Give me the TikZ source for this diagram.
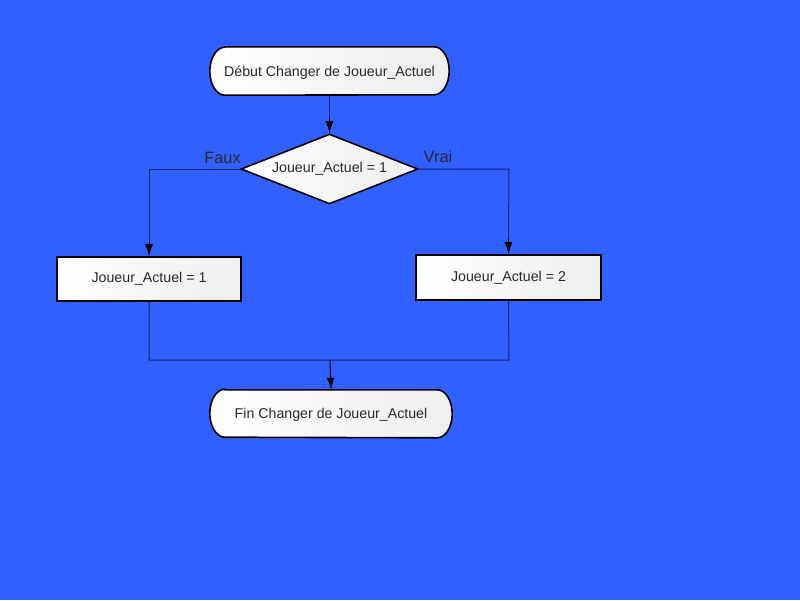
\documentclass[tikz,border=0pt]{standalone}
\usepackage{fontspec}
\setmainfont{Liberation Sans}
\usetikzlibrary{arrows.meta,shapes.geometric}
\definecolor{bgblue}{RGB}{48,96,255}
\definecolor{conn}{RGB}{20,35,100}
\definecolor{txt}{RGB}{40,40,40}
\definecolor{shadeend}{RGB}{238,238,238}
\tikzset{
  boxtext/.style={font=\fontsize{14.2}{16}\selectfont, text=txt},
  procbox/.style={rectangle, draw=black, line width=1.6pt, left color=white, right color=shadeend, boxtext, inner sep=0pt},
  decbox/.style={diamond, draw=black, line width=1.6pt, left color=white, right color=shadeend, boxtext, inner sep=0pt, aspect=2.53},
  termnode/.style={rectangle, draw=none, boxtext, inner sep=0pt},
  termline/.style={draw=black, line width=1.6pt, left color=white, right color=shadeend},
  connline/.style={draw=conn, line width=1pt},
  arrowline/.style={draw=black, line width=1pt, -{Latex[length=12pt,width=8pt]}},
  brlabel/.style={font=\fontsize{16.4}{18}\selectfont, text=txt}
}
\newcommand{\termshape}[1]{%
  \path[termline] ([xshift=15pt]#1.north west) -- ([xshift=-15pt]#1.north east)
    arc[start angle=90,end angle=-90,x radius=15pt,y radius=24pt]
    -- ([xshift=15pt]#1.south west)
    arc[start angle=270,end angle=90,x radius=15pt,y radius=24pt] -- cycle;}
\begin{document}
\begin{tikzpicture}[x=1pt,y=-1pt]
\fill[bgblue] (0,0) rectangle (800,600);
\useasboundingbox (0,0) rectangle (800,600);
% start terminator
\node[termnode, minimum width=239pt, minimum height=48pt] (start) at (329.5,71) {};
\termshape{start}
\node[boxtext] at ([yshift=-1.5pt]start.center) {Début Changer de Joueur\_Actuel};
% decision
\node[decbox, minimum width=177pt, minimum height=70pt] (dec) at (329.5,169) {Joueur\_Actuel = 1};
% process boxes
\node[procbox, minimum width=184pt, minimum height=44pt] (left) at (149,279) {Joueur\_Actuel = 1};
\node[procbox, minimum width=185pt, minimum height=45pt] (right) at (508.5,277.5) {Joueur\_Actuel = 2};
% end terminator
\node[termnode, minimum width=242pt, minimum height=47pt] (fin) at (331,413.5) {};
\termshape{fin}
\node[boxtext] at ([yshift=-1.5pt]fin.center) {Fin Changer de Joueur\_Actuel};
% connectors
\coordinate (lc) at (149,169);
\coordinate (rc) at (509,169);
\coordinate (lb) at (149,360);
\coordinate (rb) at (509,360);
\coordinate (mj) at (330,360);
\draw[connline] (start.south) -- ([yshift=16pt]dec.north);
\draw[arrowline] ([yshift=16pt]dec.north) -- (dec.north);
\draw[connline] (dec.west) -- (lc) -- ([yshift=16pt]left.north);
\draw[arrowline] ([yshift=16pt]left.north) -- (left.north);
\draw[connline] (dec.east) -- (rc) -- ([yshift=16pt]right.north);
\draw[arrowline] ([yshift=16pt]right.north) -- (right.north);
\draw[connline] (left.south) -- (lb) -- (rb) -- (right.south);
\draw[arrowline] (mj) -- (fin.north);
\node[brlabel] at (222.5,158) {Faux};
\node[brlabel] at (438,157) {Vrai};
\end{tikzpicture}
\end{document}
